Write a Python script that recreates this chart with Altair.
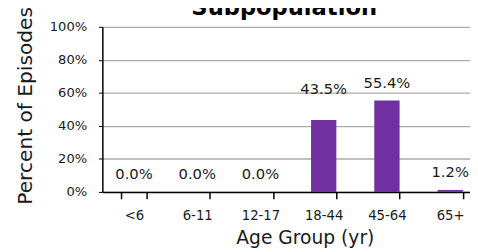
import altair as alt
import pandas as pd

groups = ["<6", "6-11", "12-17", "18-44", "45-64", "65+"]
values = [0.0, 0.0, 0.0, 0.435, 0.554, 0.012]
labels = ["0.0%", "0.0%", "0.0%", "43.5%", "55.4%", "1.2%"]
y_ticks = [0, 0.2, 0.4, 0.6, 0.8, 1.0]
title_text = ["Subpopulation\u00b9"]

df = pd.DataFrame({"group": groups, "value": values, "label": labels})

FONT = "DejaVu Sans"
TXT = "#1a1a1a"

xscale = alt.Scale(range=[0, 386], paddingInner=0.6, paddingOuter=0.3)
yscale = alt.Scale(domain=[0, 1])

x = alt.X(
    "group:N",
    sort=groups,
    scale=xscale,
    axis=alt.Axis(
        title="Age Group (yr)",
        titleFont=FONT, titleFontSize=19, titleFontWeight="normal", titleColor=TXT,
        titleX=206, titleY=52, titleBaseline="alphabetic",
        labelFont=FONT, labelFontSize=13.5, labelColor=TXT, labelAngle=0,
        labelPadding=10,
        tickBand="extent", tickSize=7, tickColor="#000", tickWidth=1.5,
        domainColor="#000", domainWidth=1.5, grid=False,
    ),
)
y = alt.Y(
    "value:Q",
    scale=yscale,
    axis=alt.Axis(
        title="Percent of Episodes",
        titleFont=FONT, titleFontSize=20.5, titleFontWeight="normal", titleColor=TXT,
        titleX=-72, titleY=80, titleBaseline="alphabetic", titleAngle=-90,
        labelFont=FONT, labelFontSize=13.3, labelColor=TXT, labelOverlap=False,
        labelPadding=12, format=".0%", values=y_ticks, tickCount=6,
        tickSize=4, tickColor="#000", domainColor="#000", domainWidth=1.5,
        grid=True, gridColor="#ABABAB", gridWidth=1.3,
    ),
)

bars = alt.Chart(df).mark_bar(color="#7030A0").encode(x=x, y=y)

lab_common = dict(font=FONT, fontSize=15, color=TXT, baseline="middle", align="center")
lab1 = alt.Chart(df).transform_filter(alt.datum.group != "18-44").mark_text(dy=-18, **lab_common).encode(
    x=x, y=y, text="label:N")
lab2 = alt.Chart(df).transform_filter(alt.datum.group == "18-44").mark_text(dy=-32, **lab_common).encode(
    x=x, y=y, text="label:N")

title = alt.Chart(pd.DataFrame({"t": title_text})).mark_text(
    font=FONT, fontSize=23, fontWeight="bold", color="#000", align="center", baseline="alphabetic"
).encode(x=alt.value(190), y=alt.value(-12), text="t:N")

chart = alt.layer(bars, lab1, lab2, title).properties(
    width=374, height=168,
    autosize=alt.AutoSizeParams(type="none"),
    padding={"left": 96, "top": 17, "right": 0, "bottom": 59},
).configure_view(stroke=None)

chart.save("out.html", embed_options={"renderer": "svg", "actions": False})
